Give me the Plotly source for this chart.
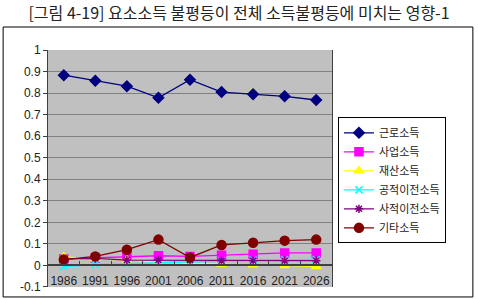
import plotly.graph_objects as go

years = ["1986", "1991", "1996", "2001", "2006", "2011", "2016", "2021", "2026"]
wage = [0.883, 0.857, 0.832, 0.778, 0.862, 0.805, 0.795, 0.785, 0.768]
business = [0.030, 0.035, 0.040, 0.045, 0.042, 0.047, 0.052, 0.058, 0.058]
property_inc = [0.040, 0.030, 0.025, 0.015, 0.010, 0.005, 0.003, 0.000, -0.005]
public_tr = [-0.005, 0.005, 0.008, 0.012, 0.018, 0.022, 0.025, 0.027, 0.028]
private_tr = [0.030, 0.033, 0.025, 0.025, 0.025, 0.022, 0.022, 0.022, 0.022]
other = [0.027, 0.042, 0.073, 0.120, 0.037, 0.095, 0.105, 0.115, 0.120]
y_ticks = [-0.1, 0, 0.1, 0.2, 0.3, 0.4, 0.5, 0.6, 0.7, 0.8, 0.9, 1]
y_ticktext = ["-0.1", "0", "0.1", "0.2", "0.3", "0.4", "0.5", "0.6", "0.7", "0.8", "0.9", "1"]
y_min, y_max = -0.1001, 1.0001

names = ["근로소득", "사업소득", "재산소득", "공적이전소득", "사적이전소득", "기타소득"]
series = [wage, business, property_inc, public_tr, private_tr, other]
colors = ["#000080", "#FF00FF", "#FFFF00", "#00FFFF", "#800080", "#800000"]
symbols = ["diamond", "square", "triangle-up", "x-thin-open", "asterisk-open", "circle"]
sizes = [8, 8, 8, 7, 7, 9]

fig = go.Figure()
for n, s, c, sym, sz in zip(names, series, colors, symbols, sizes):
    fig.add_trace(go.Scatter(
        x=years, y=s, name=n, mode="lines+markers",
        line=dict(color=c, width=1.3),
        marker=dict(symbol=sym, size=sz, color=c, line=dict(color=c, width=1.5)),
    ))

font = "Liberation Sans, Noto Sans CJK KR, sans-serif"
fig.update_layout(
    width=478, height=299,
    margin=dict(l=48, r=146, t=50, b=12),
    paper_bgcolor="white",
    plot_bgcolor="#C0C0C0",
    font=dict(family=font, size=11, color="#222222"),
    title=dict(text="[그림 4-19] 요소소득 불평등이 전체 소득불평등에 미치는 영향-1",
               x=0.5, xref="container", y=0.955, yref="container", yanchor="middle",
               font=dict(size=16, family="Noto Sans CJK KR, sans-serif", color="#222222")),
    showlegend=True,
    legend=dict(x=1.021, y=0.45, xanchor="left", yanchor="middle",
                bgcolor="white", bordercolor="black", borderwidth=1,
                font=dict(size=11, family="Noto Sans CJK KR, sans-serif"),
                tracegroupgap=0, itemwidth=30),
    xaxis=dict(type="category", showgrid=False, automargin=False,
               anchor="free", position=(0 - y_min) / (y_max - y_min),
               ticks="inside", ticklen=4, tickcolor="#404040", tickson="boundaries",
               ticklabelstandoff=4, tickangle=0,
               showline=True, linecolor="#404040", linewidth=1.5,
               range=[-0.5, 8.5], tickfont=dict(size=12)),
    yaxis=dict(range=[y_min, y_max], tickmode="array", tickvals=y_ticks,
               ticktext=y_ticktext,
               showgrid=True, automargin=False,
               gridcolor="#808080", gridwidth=1, zeroline=False,
               showline=True, linecolor="#404040", mirror=True,
               ticks="outside", ticklen=4, tickcolor="#404040",
               tickfont=dict(size=12)),
    shapes=[dict(type="rect", xref="paper", yref="paper",
                 x0=-0.158, x1=1.496, y0=-0.042, y1=1.097,
                 line=dict(color="black", width=1), fillcolor="rgba(0,0,0,0)",
                 layer="below")],
)

fig.write_html("out.html")
